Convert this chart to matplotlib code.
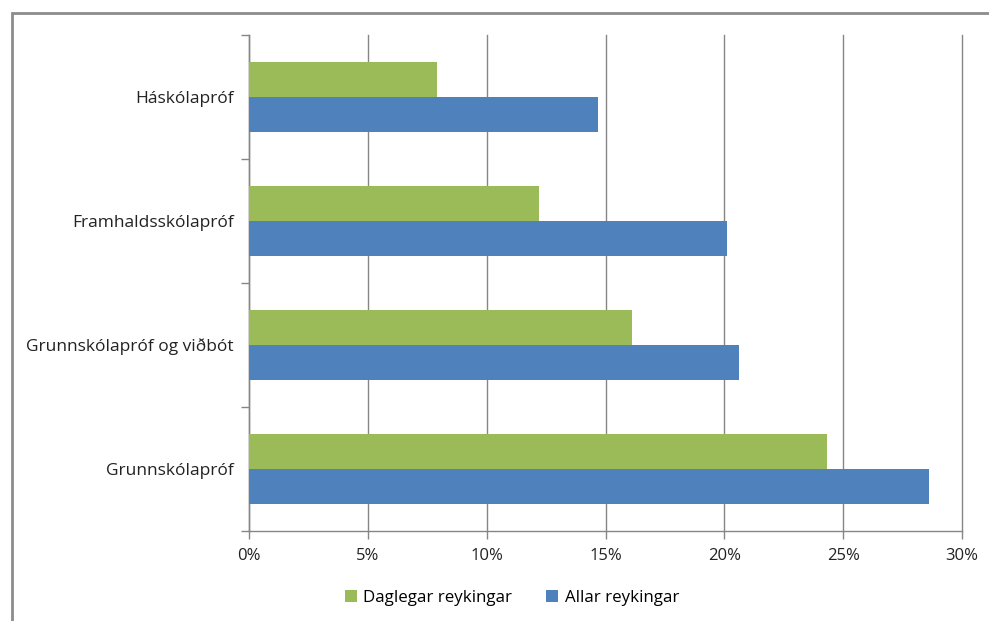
import matplotlib.pyplot as plt
import matplotlib.patches as mpatches
from matplotlib.ticker import FixedLocator, NullFormatter

categories = ["Grunnskólapróf", "Grunnskólapróf og viðbót", "Framhaldsskólapróf", "Háskólapróf"]
daglegar = [24.3, 16.1, 12.2, 7.9]
allar = [28.6, 20.6, 20.1, 14.7]
xticks = [0, 5, 10, 15, 20, 25, 30]
xtick_labels = ["0%", "5%", "10%", "15%", "20%", "25%", "30%"]

green = "#9BBB59"
blue = "#4F81BD"
grid_col = "#868686"

plt.rcParams["font.family"] = ["Open Sans", "DejaVu Sans"]

fig = plt.figure(figsize=(9.89, 6.21), dpi=100)
ax = fig.add_axes([249 / 989, 90 / 621, 713 / 989, 496 / 621])

# outer chart frame
fig.patches.append(mpatches.Rectangle((12 / 989, -0.05), 1.1, (621 - 13) / 621 + 0.05,
                                      transform=fig.transFigure, fill=False,
                                      edgecolor="#8C8C8C", linewidth=2, zorder=0))

h = 0.282
ypos = list(range(len(categories)))
ax.barh([y - h / 2 for y in ypos], allar, height=h, color=blue, label="Allar reykingar", zorder=3)
ax.barh([y + h / 2 for y in ypos], daglegar, height=h, color=green, label="Daglegar reykingar", zorder=3)

ax.set_xlim(0, 30)
ax.set_ylim(-0.5, len(categories) - 0.5)
ax.set_xticks(xticks)
ax.set_xticklabels(xtick_labels, fontsize=12, color="#222222")
ax.set_yticks(ypos)
ax.set_yticklabels(categories, fontsize=12.5, color="#222222")
ax.tick_params(axis="y", which="major", length=0, pad=11)
ax.yaxis.set_minor_locator(FixedLocator([-0.5, 0.5, 1.5, 2.5, 3.5]))
ax.yaxis.set_minor_formatter(NullFormatter())
ax.tick_params(axis="y", which="minor", length=6, color=grid_col, width=1)
ax.tick_params(axis="x", length=6, color=grid_col, width=1, pad=6)

ax.grid(axis="x", color=grid_col, linewidth=1, zorder=0)
for gl in ax.get_xgridlines():
    gl.set_clip_on(False)
ax.set_axisbelow(True)
for s in ["top", "right"]:
    ax.spines[s].set_visible(False)
for s in ["left", "bottom"]:
    ax.spines[s].set_color(grid_col)
    ax.spines[s].set_linewidth(1)

handles, labels = ax.get_legend_handles_labels()
fig.legend(handles[::-1], labels[::-1], loc="center", bbox_to_anchor=(512 / 989, 1 - 598 / 621),
           ncol=2, frameon=False, fontsize=12.2, handlelength=0.7, handleheight=0.7,
           handletextpad=0.4, columnspacing=2.0)

fig.savefig("out.png", dpi=100)
